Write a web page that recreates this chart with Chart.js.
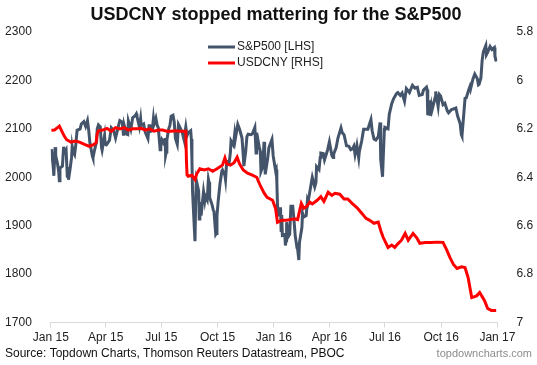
<!DOCTYPE html>
<html>
<head>
<meta charset="utf-8">
<script src="https://cdn.jsdelivr.net/npm/chart.js@4"></script>
<style>
  html, body { margin: 0; padding: 0; background: #fff; }
  #wrap { width: 537px; height: 365px; position: relative; }
</style>
</head>
<body>
<div id="wrap"><canvas id="chart" width="537" height="365"></canvas></div>
<script>
const FONT = "Arial, 'Liberation Sans', sans-serif";

const titleText = "USDCNY stopped mattering for the S&P500";
const sourceText = "Source: Topdown Charts, Thomson Reuters Datastream, PBOC";
const brandText = "topdowncharts.com";

const tickDates = ["2015-01-01", "2015-04-01", "2015-07-01", "2015-10-01", "2016-01-01",
                   "2016-04-01", "2016-07-01", "2016-10-01", "2017-01-01"];
const tickLabels = ["Jan 15", "Apr 15", "Jul 15", "Oct 15", "Jan 16", "Apr 16", "Jul 16", "Oct 16", "Jan 17"];

// S&P500 (left axis)
const spxDates = [
  "2015-01-02","2015-01-05","2015-01-06","2015-01-08","2015-01-09","2015-01-12","2015-01-14","2015-01-15","2015-01-16","2015-01-20",
  "2015-01-22","2015-01-23","2015-01-26","2015-01-28","2015-01-29","2015-01-30","2015-02-02","2015-02-04","2015-02-05","2015-02-06",
  "2015-02-09","2015-02-11","2015-02-13","2015-02-18","2015-02-20","2015-02-24","2015-02-27","2015-03-02","2015-03-04","2015-03-06",
  "2015-03-10","2015-03-11","2015-03-13","2015-03-17","2015-03-18","2015-03-20","2015-03-23","2015-03-25","2015-03-26","2015-03-30",
  "2015-03-31","2015-04-02","2015-04-07","2015-04-10","2015-04-14","2015-04-17","2015-04-22","2015-04-24","2015-04-28","2015-04-30",
  "2015-05-01","2015-05-05","2015-05-07","2015-05-08","2015-05-12","2015-05-15","2015-05-19","2015-05-21","2015-05-22","2015-05-26",
  "2015-05-28","2015-05-29","2015-06-02","2015-06-04","2015-06-05","2015-06-09","2015-06-11","2015-06-12","2015-06-16","2015-06-18",
  "2015-06-19","2015-06-22","2015-06-24","2015-06-26","2015-06-29","2015-06-30","2015-07-02","2015-07-06","2015-07-07","2015-07-08",
  "2015-07-09","2015-07-10","2015-07-13","2015-07-15","2015-07-17","2015-07-20","2015-07-22","2015-07-24","2015-07-27","2015-07-29",
  "2015-07-31","2015-08-04","2015-08-06","2015-08-07","2015-08-10","2015-08-12","2015-08-14","2015-08-18","2015-08-19","2015-08-20",
  "2015-08-21","2015-08-24","2015-08-25","2015-08-26","2015-08-27","2015-08-28","2015-08-31","2015-09-01","2015-09-02","2015-09-04",
  "2015-09-08","2015-09-10","2015-09-11","2015-09-14","2015-09-16","2015-09-17","2015-09-18","2015-09-22","2015-09-24","2015-09-25",
  "2015-09-28","2015-09-29","2015-09-30","2015-10-02","2015-10-05","2015-10-08","2015-10-09","2015-10-13","2015-10-14","2015-10-16",
  "2015-10-20","2015-10-22","2015-10-23","2015-10-27","2015-10-29","2015-10-30","2015-11-03","2015-11-06","2015-11-10","2015-11-12",
  "2015-11-13","2015-11-16","2015-11-18","2015-11-20","2015-11-25","2015-11-27","2015-12-01","2015-12-03","2015-12-04","2015-12-08",
  "2015-12-10","2015-12-11","2015-12-14","2015-12-16","2015-12-17","2015-12-18","2015-12-22","2015-12-24","2015-12-29","2015-12-31",
  "2016-01-04","2016-01-05","2016-01-06","2016-01-07","2016-01-08","2016-01-11","2016-01-12","2016-01-13","2016-01-14","2016-01-15",
  "2016-01-19","2016-01-20","2016-01-21","2016-01-22","2016-01-25","2016-01-27","2016-01-29","2016-02-01","2016-02-03","2016-02-05",
  "2016-02-08","2016-02-09","2016-02-11","2016-02-12","2016-02-16","2016-02-17","2016-02-19","2016-02-23","2016-02-25","2016-02-26",
  "2016-03-01","2016-03-03","2016-03-04","2016-03-08","2016-03-10","2016-03-11","2016-03-15","2016-03-17","2016-03-18","2016-03-22",
  "2016-03-24","2016-03-29","2016-04-01","2016-04-05","2016-04-07","2016-04-08","2016-04-12","2016-04-15","2016-04-20","2016-04-22",
  "2016-04-25","2016-04-29","2016-05-03","2016-05-06","2016-05-09","2016-05-11","2016-05-13","2016-05-16","2016-05-19","2016-05-20",
  "2016-05-24","2016-05-27","2016-06-01","2016-06-03","2016-06-08","2016-06-10","2016-06-13","2016-06-16","2016-06-20","2016-06-23",
  "2016-06-24","2016-06-27","2016-06-28","2016-06-30","2016-07-01","2016-07-06","2016-07-08","2016-07-12","2016-07-15","2016-07-20",
  "2016-07-22","2016-07-26","2016-07-29","2016-08-02","2016-08-05","2016-08-10","2016-08-15","2016-08-19","2016-08-23","2016-08-26",
  "2016-08-31","2016-09-02","2016-09-07","2016-09-08","2016-09-09","2016-09-12","2016-09-13","2016-09-15","2016-09-16","2016-09-21",
  "2016-09-22","2016-09-26","2016-09-28","2016-09-30","2016-10-04","2016-10-07","2016-10-11","2016-10-13","2016-10-18","2016-10-21",
  "2016-10-25","2016-10-28","2016-11-01","2016-11-03","2016-11-04","2016-11-07","2016-11-09","2016-11-11","2016-11-15","2016-11-17",
  "2016-11-18","2016-11-22","2016-11-25","2016-11-29","2016-12-01","2016-12-02","2016-12-05","2016-12-07","2016-12-09","2016-12-13",
  "2016-12-14","2016-12-16","2016-12-20","2016-12-23","2016-12-27","2016-12-28","2016-12-30"
];
const spxValues = [
  2058,2021,2003,2062,2045,2028,2011,1993,2019,2023,
  2063,2051,2057,2002,2021,1995,2021,2041,2063,2055,
  2047,2068,2097,2100,2110,2115,2105,2117,2098,2071,
  2044,2040,2053,2074,2100,2108,2104,2062,2056,2086,
  2068,2067,2076,2102,2096,2081,2107,2117,2114,2086,
  2108,2089,2088,2116,2099,2123,2127,2131,2126,2104,
  2121,2107,2110,2096,2092,2080,2109,2094,2096,2121,
  2110,2122,2108,2102,2057,2063,2077,2068,2081,2046,
  2052,2077,2100,2107,2126,2128,2114,2080,2068,2109,
  2104,2093,2083,2078,2104,2086,2092,2096,2079,2036,
  1971,1893,1868,1940,1988,1989,1972,1914,1949,1921,
  1970,1952,1961,1953,1996,1990,1958,1943,1932,1931,
  1882,1884,1920,1951,1987,2013,2015,2004,1995,2033,
  2030,2052,2075,2066,2089,2079,2109,2099,2081,2045,
  2023,2053,2084,2089,2088,2090,2103,2050,2092,2064,
  2053,2012,2022,2073,2041,2006,2039,2061,2078,2044,
  2013,2016,1990,1944,1922,1924,1938,1890,1922,1880,
  1882,1859,1869,1907,1878,1882,1940,1940,1913,1880,
  1854,1852,1829,1865,1896,1926,1918,1921,1952,1948,
  1978,1993,2000,1980,1989,2022,2016,2041,2050,2049,
  2036,2056,2073,2045,2041,2048,2061,2081,2102,2092,
  2088,2065,2064,2057,2059,2064,2047,2066,2040,2053,
  2076,2099,2099,2099,2119,2096,2079,2077,2084,2113,
  2037,2001,2036,2099,2103,2100,2130,2152,2162,2173,
  2175,2169,2174,2157,2183,2175,2190,2184,2186,2169,
  2171,2180,2186,2181,2128,2159,2127,2147,2139,2164,
  2177,2146,2171,2168,2150,2153,2137,2133,2140,2141,
  2143,2126,2111,2088,2085,2131,2163,2164,2180,2187,
  2182,2203,2213,2204,2191,2192,2205,2241,2259,2272,
  2253,2258,2270,2264,2268,2250,2239
];

// USDCNY (right axis, inverted)
const cnyDates = [
  "2015-01-02","2015-01-07","2015-01-12","2015-01-15","2015-01-20","2015-01-23","2015-01-27","2015-02-03","2015-02-10","2015-02-17",
  "2015-02-26","2015-03-05","2015-03-12","2015-03-16","2015-03-18","2015-03-20","2015-03-27","2015-04-03","2015-04-10","2015-04-17",
  "2015-04-24","2015-05-01","2015-05-08","2015-05-15","2015-05-22","2015-05-29","2015-06-05","2015-06-12","2015-06-19","2015-06-26",
  "2015-07-03","2015-07-10","2015-07-17","2015-07-24","2015-07-31","2015-08-07","2015-08-10","2015-08-11","2015-08-12","2015-08-14",
  "2015-08-20","2015-08-25","2015-08-28","2015-09-02","2015-09-09","2015-09-16","2015-09-23","2015-09-30","2015-10-09","2015-10-13",
  "2015-10-16","2015-10-22","2015-10-28","2015-11-02","2015-11-06","2015-11-12","2015-11-19","2015-11-26","2015-12-04","2015-12-10",
  "2015-12-16","2015-12-21","2015-12-30","2016-01-04","2016-01-07","2016-01-14","2016-01-21","2016-01-28","2016-02-04","2016-02-09",
  "2016-02-15","2016-02-19","2016-02-24","2016-02-29","2016-03-04","2016-03-12","2016-03-18","2016-03-23","2016-03-30","2016-04-05",
  "2016-04-10","2016-04-18","2016-04-25","2016-05-01","2016-05-09","2016-05-16","2016-05-24","2016-05-31","2016-06-06","2016-06-13",
  "2016-06-20","2016-06-24","2016-06-28","2016-07-06","2016-07-12","2016-07-17","2016-07-22","2016-07-28","2016-08-03","2016-08-08",
  "2016-08-16","2016-08-22","2016-08-27","2016-09-05","2016-09-15","2016-09-25","2016-10-04","2016-10-10","2016-10-15","2016-10-21",
  "2016-10-27","2016-11-03","2016-11-09","2016-11-14","2016-11-20","2016-11-28","2016-12-03","2016-12-11","2016-12-16","2016-12-22",
  "2016-12-30"
];
const cnyValues = [
  6.206,6.205,6.195,6.189,6.215,6.230,6.245,6.255,6.250,6.255,
  6.265,6.272,6.265,6.258,6.220,6.208,6.205,6.198,6.210,6.195,
  6.200,6.195,6.205,6.200,6.200,6.198,6.205,6.200,6.210,6.205,
  6.205,6.210,6.210,6.208,6.210,6.210,6.210,6.330,6.390,6.396,
  6.392,6.410,6.385,6.365,6.370,6.365,6.375,6.365,6.350,6.320,
  6.345,6.350,6.340,6.317,6.345,6.370,6.383,6.390,6.400,6.435,
  6.465,6.483,6.495,6.530,6.586,6.578,6.578,6.575,6.572,6.575,
  6.508,6.528,6.520,6.503,6.510,6.495,6.480,6.500,6.462,6.475,
  6.466,6.470,6.490,6.490,6.510,6.525,6.549,6.570,6.578,6.590,
  6.585,6.620,6.648,6.690,6.680,6.690,6.675,6.660,6.632,6.660,
  6.632,6.650,6.673,6.670,6.670,6.668,6.669,6.700,6.730,6.760,
  6.777,6.770,6.773,6.814,6.897,6.890,6.876,6.910,6.942,6.950,
  6.950
];

const DAY0 = Date.parse("2015-01-01");
function toDay(d) {
  return (Date.parse(d) - DAY0) / 86400000;
}

const spxPoints = spxDates.map((d, i) => ({ x: toDay(d), y: spxValues[i] }));
const cnyPoints = cnyDates.map((d, i) => ({ x: toDay(d), y: cnyValues[i] }));
const tickDays = tickDates.map(toDay);

// title, legend and footer drawn at fixed spots
const decorPlugin = {
  id: "decor",
  afterDraw(chart) {
    const ctx = chart.ctx;
    ctx.save();
    ctx.fillStyle = "#111";
    ctx.font = "bold 18px " + FONT;
    ctx.textAlign = "center";
    ctx.textBaseline = "alphabetic";
    ctx.fillText(titleText, 276, 20);

    ctx.font = "12px " + FONT;
    ctx.textAlign = "left";
    ctx.textBaseline = "middle";
    const legendY = [47, 63];
    chart.data.datasets.forEach((ds, i) => {
      const y = legendY[i];
      ctx.strokeStyle = ds.borderColor;
      ctx.lineWidth = 3;
      ctx.beginPath();
      ctx.moveTo(208, y);
      ctx.lineTo(235, y);
      ctx.stroke();
      ctx.fillStyle = "#222";
      ctx.fillText(ds.label, 237, y);
    });

    ctx.fillStyle = "#111";
    ctx.fillText(sourceText, 5, 354);
    ctx.font = "11px " + FONT;
    ctx.fillStyle = "#8c8c8c";
    ctx.textAlign = "right";
    ctx.fillText(brandText, 532, 354);
    ctx.restore();
  }
};

new Chart(document.getElementById("chart"), {
  type: "line",
  data: {
    datasets: [
      {
        label: "S&P500 [LHS]",
        data: spxPoints,
        yAxisID: "yL",
        borderColor: "#44546a",
        borderWidth: 3,
        pointRadius: 0,
        tension: 0,
        order: 2
      },
      {
        label: "USDCNY [RHS]",
        data: cnyPoints,
        yAxisID: "yR",
        borderColor: "#ff0000",
        borderWidth: 3,
        pointRadius: 0,
        tension: 0,
        order: 1
      }
    ]
  },
  options: {
    responsive: false,
    animation: false,
    layout: { padding: { top: 32, left: 0, right: 0, bottom: 0 } },
    plugins: {
      legend: { display: false },
      title: { display: false },
      tooltip: { enabled: false }
    },
    scales: {
      x: {
        type: "linear",
        min: tickDays[0],
        max: tickDays[tickDays.length - 1],
        afterBuildTicks: (scale) => {
          scale.ticks = tickDays.map(v => ({ value: v }));
        },
        afterFit: (scale) => { scale.height = 42.5; },
        grid: { drawOnChartArea: false, color: "#d9d9d9", tickLength: 5 },
        border: { color: "#d9d9d9" },
        ticks: {
          autoSkip: false,
          maxRotation: 0,
          padding: 3,
          color: "#222",
          font: { family: FONT, size: 12 },
          callback: (v, i) => tickLabels[i]
        }
      },
      yL: {
        position: "left",
        min: 1700,
        max: 2300,
        afterFit: (scale) => { scale.width = 50.8; },
        grid: { display: false },
        border: { display: false },
        ticks: {
          stepSize: 100,
          padding: 11,
          color: "#222",
          font: { family: FONT, size: 12 },
          callback: (v) => String(v)
        }
      },
      yR: {
        position: "right",
        reverse: true,
        min: 5.8,
        max: 7,
        afterFit: (scale) => { scale.width = 39.6; },
        grid: { display: false },
        border: { display: false },
        ticks: {
          stepSize: 0.2,
          padding: 11,
          color: "#222",
          font: { family: FONT, size: 12 },
          callback: (v) => String(Number(v.toFixed(1)))
        }
      }
    }
  },
  plugins: [decorPlugin]
});
</script>
</body>
</html>
